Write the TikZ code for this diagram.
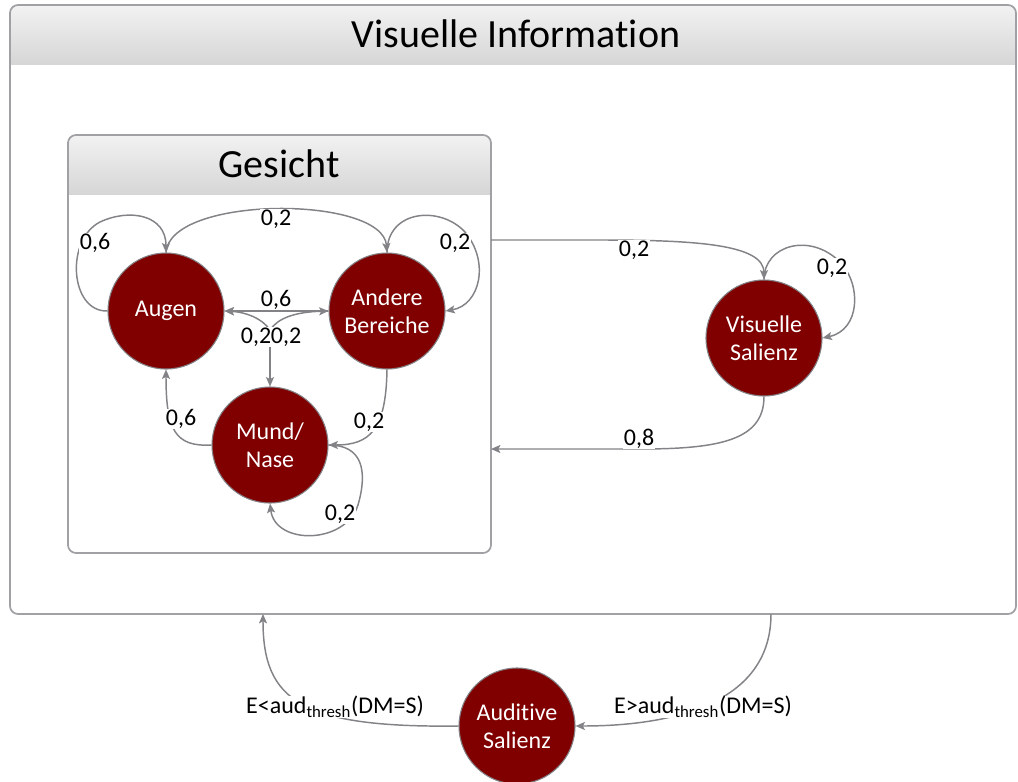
\documentclass[tikz,border=0pt]{standalone}
\usepackage{fontspec}
\setmainfont{Carlito}[Ligatures=NoCommon]
\usetikzlibrary{arrows.meta}
\definecolor{nodered}{RGB}{128,0,0}
\definecolor{edgegray}{RGB}{130,130,135}
\definecolor{boxgray}{RGB}{160,160,165}
\definecolor{headtop}{RGB}{242,242,242}
\definecolor{headbot}{RGB}{214,214,214}
\begin{document}
\begin{tikzpicture}[x=0.75pt,y=-0.75pt,
  state/.style={circle,fill=nodered,draw=edgegray,line width=0.8pt,minimum size=87pt,inner sep=0pt,text=white,align=center,font=\fontsize{18}{21}\selectfont},
  edge/.style={draw=edgegray,line width=1.1pt,-{Stealth[length=7pt,width=6pt,inset=1.5pt]}},
  lbl/.style={fill=white,inner sep=0.5pt,font=\fontsize{18}{21}\selectfont},
  boxline/.style={draw=boxgray,line width=1.3pt,rounded corners=6pt},
  head/.style={top color=headtop,bottom color=headbot},
  title/.style={font=\fontsize{30}{36}\selectfont,anchor=base}]
\useasboundingbox (0,0) rectangle (1018,782);
% outer box
\begin{scope}
  \clip[rounded corners=6pt] (10,5) rectangle (1016,614);
  \fill[head] (10,5) rectangle (1016,64);
\end{scope}
\draw[boxline] (10,5) rectangle (1016,614);
\node[title] (vtitle) at (516,47) {Visuelle Information};
% inner box
\begin{scope}
  \clip[rounded corners=6pt] (68,135) rectangle (491,553);
  \fill[head] (68,135) rectangle (491,194);
\end{scope}
\draw[boxline] (68,135) rectangle (491,553);
\node[title] (gtitle) at (279,177) {Gesicht};
% states
\node[state] (au) at (166,311) {Augen};
\node[state] (an) at (387,311) {Andere\\Bereiche};
\node[state] (mn) at (270,445) {Mund/\\Nase};
\node[state] (vs) at (764,338) {Visuelle\\Salienz};
\node[state] (as) at (517,726) {Auditive\\Salienz};
% free ends
\coordinate (g1) at (491,240);
\coordinate (g2) at (491,449);
\coordinate (J) at (270,330);
\coordinate (t1) at (263,614);
\coordinate (t2) at (771,614);
% edges inside Gesicht
\draw[edge] (au.west) .. controls (70,312) and (65,240) .. (100,222) .. controls (130,208) and (166,215) .. (au.north);
\draw[edge] (au.north) .. controls (170,195) and (383,195) .. (an.north);
\draw[edge] (an.north) .. controls (387,210) and (440,205) .. (465,232) .. controls (490,262) and (480,305) .. (an.east);
\draw[edge] (an.west) -- (au.east);
\draw[edge] (J) .. controls (262,318) and (245,312) .. (au.east);
\draw[edge] (J) .. controls (278,318) and (295,312) .. (an.west);
\draw[edge] (J) -- (mn.north);
\draw[edge] (mn.west) .. controls (175,447) and (166,430) .. (au.south);
\draw[edge] (an.south) .. controls (386,430) and (370,445) .. (mn.east);
\draw[edge] (mn.east) .. controls (362,445) and (368,470) .. (358,505) .. controls (345,545) and (275,545) .. (mn.south);
% edges to/from Visuelle Salienz
\draw[edge] (g1) -- (600,240) .. controls (700,240) and (764,245) .. (vs.north);
\draw[edge] (vs.north) .. controls (764,245) and (810,232) .. (840,262) .. controls (862,285) and (860,330) .. (vs.east);
\draw[edge] (vs.south) .. controls (764,440) and (720,449) .. (640,449) -- (g2);
% auditive edges
\draw[edge] (as.west) .. controls (300,728) and (263,700) .. (t1);
\draw[edge] (t2) .. controls (771,700) and (680,726) .. (as.east);
% labels
\node[lbl] (l1) at (95,243) {0,6};
\node[lbl] (l2) at (276,219) {0,2};
\node[lbl] (l3) at (455,243) {0,2};
\node[lbl] (l4) at (276,300) {0,6};
\node[lbl] (l5) at (256,337) {0,2};
\node[lbl] (l6) at (286,337) {0,2};
\node[lbl] (l7) at (181,419) {0,6};
\node[lbl] (l8) at (369,422) {0,2};
\node[lbl] (l9) at (340,514) {0,2};
\node[lbl] (l10) at (634,250) {0,2};
\node[lbl] (l11) at (832,268) {0,2};
\node[lbl] (l12) at (639,439) {0,8};
\node[lbl] (l13) at (335,707) {E<aud\textsubscript{thresh}(DM=S)};
\node[lbl] (l14) at (703,707) {E>aud\textsubscript{thresh}(DM=S)};
\end{tikzpicture}
\end{document}
